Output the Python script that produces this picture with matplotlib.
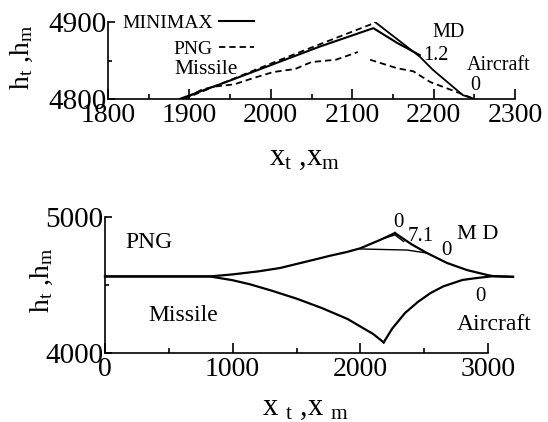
import matplotlib
matplotlib.use("Agg")
import matplotlib.pyplot as plt
from matplotlib.lines import Line2D

plt.rcParams["font.family"] = ["Liberation Serif", "DejaVu Serif"]
plt.rcParams["mathtext.default"] = "regular"

# ---- top panel: zoom near intercept (MINIMAX solid, PNG dashed)
mm_missile_x = [1888, 1950, 2000, 2060, 2126, 2155, 2183]
mm_missile_y = [4800, 4824, 4844, 4868, 4892, 4873, 4857]
mm_aircraft_x = [2250, 2236, 2199, 2183, 2128]
mm_aircraft_y = [4800, 4805, 4838, 4855, 4900]
png_upper_x = [1893, 2000, 2060, 2128]
png_upper_y = [4800, 4846, 4871, 4899]
png_missile_x = [1897, 1915, 1930, 1955, 1978, 2003, 2030, 2050, 2080, 2107]
png_missile_y = [4802, 4812, 4816, 4819, 4827, 4835, 4839, 4848, 4851, 4861]
png_aircraft_x = [2122, 2155, 2175, 2196, 2236, 2250]
png_aircraft_y = [4851, 4840, 4836, 4822, 4806, 4800]

# ---- bottom panel: full PNG engagement
up_missile_x = [0, 822, 1000, 1200, 1371, 1629, 1762, 1896, 2000, 2154, 2271]
up_missile_y = [4563, 4563, 4578, 4600, 4625, 4684, 4715, 4743, 4770, 4831, 4882]
up_aircraft_x = [3196, 3040, 2992, 2835, 2679, 2522, 2400, 2271]
up_aircraft_y = [4560, 4565, 4574, 4610, 4662, 4735, 4800, 4882]
down_missile_x = [0, 822, 1000, 1136, 1300, 1500, 1700, 1900, 2000, 2100, 2183]
down_missile_y = [4563, 4563, 4535, 4505, 4460, 4400, 4330, 4250, 4195, 4140, 4078]
down_aircraft_x = [3196, 3040, 2900, 2800, 2650, 2550, 2450, 2350, 2250, 2183]
down_aircraft_y = [4560, 4565, 4550, 4537, 4490, 4441, 4375, 4294, 4180, 4078]
inner_x = [1997, 2365, 2522]
inner_y = [4765, 4757, 4735]
apex_x = [2180, 2271, 2340]
apex_y = [4842, 4868, 4820]

W, H = 548, 422
fig = plt.figure(figsize=(W / 100, H / 100), dpi=100)


def px_axes(l, r, t, b):
    return fig.add_axes([l / W, 1 - b / H, (r - l) / W, (b - t) / H])


def style(ax):
    for s in ("top", "right"):
        ax.spines[s].set_visible(False)
    for s in ("left", "bottom"):
        ax.spines[s].set_linewidth(1.2)
    ax.tick_params(which="both", direction="in", top=False, right=False, width=1.2)
    ax.tick_params(axis="x", which="major", length=7, pad=3, labelsize=20)
    ax.tick_params(axis="x", which="minor", length=3.5)
    ax.tick_params(axis="y", which="major", length=5, pad=1, labelsize=21)
    ax.tick_params(axis="y", which="minor", length=3)


# top
ax1 = px_axes(108, 515, 22, 99)
dash = (3.5, 2.2)
ax1.plot(mm_missile_x, mm_missile_y, "k-", lw=1.5)
ax1.plot(mm_aircraft_x, mm_aircraft_y, "k-", lw=1.3)
ax1.plot(png_upper_x, png_upper_y, "k--", lw=1.3, dashes=dash)
ax1.plot(png_missile_x, png_missile_y, "k--", lw=1.3, dashes=dash)
ax1.plot(png_aircraft_x, png_aircraft_y, "k--", lw=1.3, dashes=dash)
ax1.set_xlim(1800, 2300)
ax1.set_ylim(4800, 4900)
ax1.set_xticks([1800, 1900, 2000, 2100, 2200, 2300])
ax1.set_xticks([1850, 1950, 2050, 2150, 2250], minor=True)
ax1.set_yticks([4800, 4900])
ax1.set_yticks([4850], minor=True)
style(ax1)

handles = [Line2D([], [], color="k", lw=1.5),
           Line2D([], [], color="k", lw=1.3, ls="--", dashes=dash)]
ax1.legend(handles, ["MINIMAX", "PNG"], loc="upper left", bbox_to_anchor=(0.035, 1.10),
           frameon=False, markerfirst=False, fontsize=14, handlelength=1.8,
           handletextpad=0.3, labelspacing=0.45, borderpad=0, borderaxespad=0)

ax1.text(1882, 4838, "Missile", fontsize=15.5, ha="left", va="center")
ax1.text(2198, 4887, "MD", fontsize=14.5, ha="left", va="center")
ax1.text(2187, 4857, "1.2", fontsize=14.5, ha="left", va="center")
ax1.text(2241, 4844, "Aircraft", fontsize=14.5, ha="left", va="center")
ax1.text(2251, 4818, "0", fontsize=14.5, ha="center", va="center")

# bottom
ax2 = px_axes(105, 488, 217, 353)
for xs, ys in [(up_missile_x, up_missile_y), (up_aircraft_x, up_aircraft_y),
               (down_missile_x, down_missile_y), (down_aircraft_x, down_aircraft_y)]:
    ax2.plot(xs, ys, "k-", lw=1.6, clip_on=False)
ax2.plot(inner_x, inner_y, "k-", lw=1.0, clip_on=False)
ax2.plot(apex_x, apex_y, "k-", lw=1.0, clip_on=False)
ax2.set_xlim(0, 3000)
ax2.set_ylim(4000, 5000)
ax2.set_xticks([0, 1000, 2000, 3000])
ax2.set_xticks([500, 1500, 2500], minor=True)
ax2.set_yticks([4000, 5000])
ax2.set_yticks([4500], minor=True)
style(ax2)

ax2.text(157, 4816, "PNG", fontsize=17, ha="left", va="center")
ax2.text(337, 4279, "Missile", fontsize=17, ha="left", va="center")
ax2.text(2757, 4868, "M D", fontsize=16, ha="left", va="center")
ax2.text(2295, 4963, "0", fontsize=15, ha="center", va="center")
ax2.text(2373, 4853, "7.1", fontsize=15, ha="left", va="center")
ax2.text(2671, 4757, "0", fontsize=15, ha="center", va="center")
ax2.text(2937, 4412, "0", fontsize=15, ha="center", va="center")
ax2.text(2757, 4206, "Aircraft", fontsize=17, ha="left", va="center")

# axis labels
fig.text(22 / W, 1 - 57 / H, "h$_t$ ,h$_m$", fontsize=20, rotation=90, ha="center", va="center")
fig.text(305 / W, 1 - 157 / H, "x$_t$ ,x$_m$", fontsize=22, ha="center", va="center")
fig.text(42 / W, 1 - 280 / H, "h$_t$ ,h$_m$", fontsize=20, rotation=90, ha="center", va="center")
fig.text(305 / W, 1 - 407 / H, "x $_t$ ,x $_m$", fontsize=22, ha="center", va="center")

fig.savefig("out.png", dpi=100)
